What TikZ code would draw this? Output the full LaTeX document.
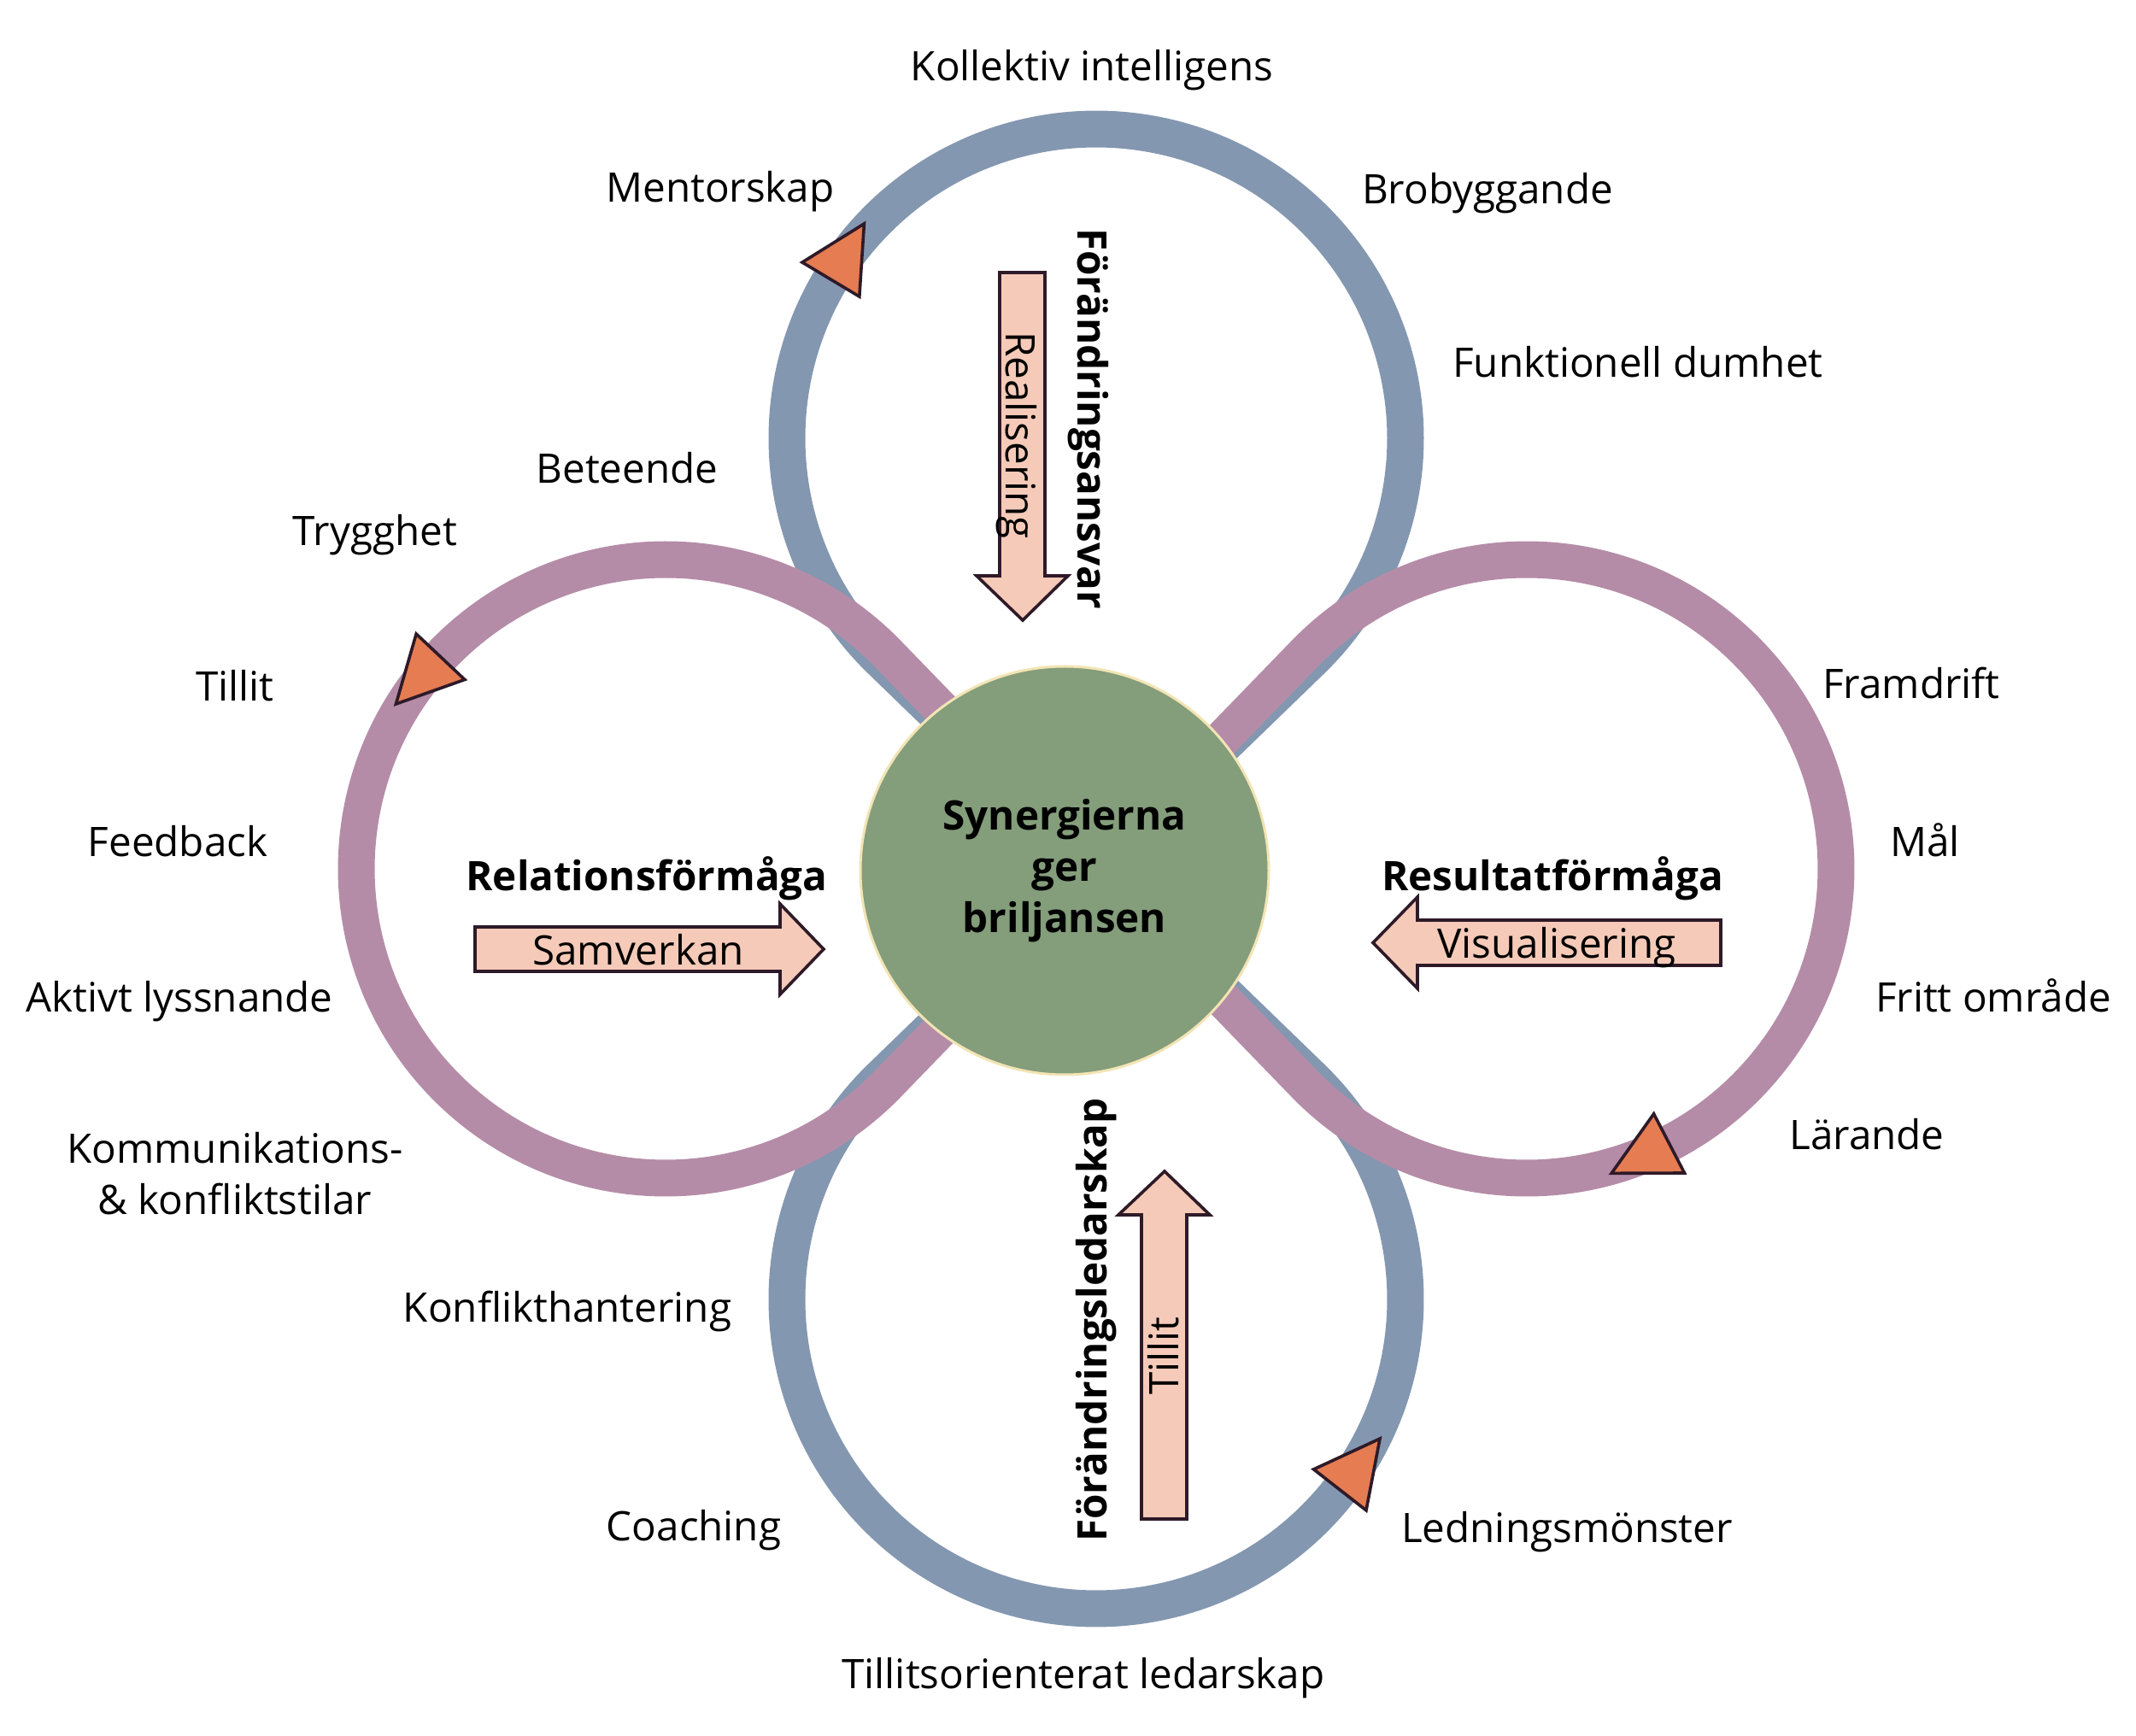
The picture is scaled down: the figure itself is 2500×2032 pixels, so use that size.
\documentclass[tikz,border=0pt]{standalone}
\usepackage{fontspec}
\setmainfont{Open Sans}
\usetikzlibrary{calc}
\definecolor{loopblue}{HTML}{8497B0}
\definecolor{looppurple}{HTML}{B58CA7}
\definecolor{hubgreen}{HTML}{849D7B}
\definecolor{hubring}{HTML}{F2E4B4}
\definecolor{peach}{HTML}{F5CAB8}
\definecolor{edgedark}{HTML}{2E1A28}
\definecolor{trifill}{HTML}{E57C52}
\newcommand\looptri[3]{%
  \coordinate (m) at ($(#1)+(#2:362)$);
  \draw[trimark] ($(m)+(#2:39)$) -- ($(m)+(#2+180:39)$) -- ($(m)+(#2#3:76)$) -- cycle;}
\begin{document}
\begin{tikzpicture}[x=0.25pt,y=-0.25pt,
  lbl/.style={font=\fontsize{11.9}{15}\selectfont, anchor=base, inner sep=0pt},
  headtxt/.style={font=\bfseries\fontsize{11.9}{15}\selectfont, inner sep=0pt},
  arrtxt/.style={font=\fontsize{11.9}{15}\selectfont, inner sep=0pt},
  loopb/.style={draw=loopblue, line width=10.75pt, line join=round},
  loopp/.style={draw=looppurple, line width=10.75pt, line join=round},
  blk/.style={fill=peach, draw=edgedark, line width=0.9pt, line join=miter},
  trimark/.style={fill=trifill, draw=edgedark, line width=0.9pt, line join=miter},
]
\path[use as bounding box] (0,0) rectangle (2500,2032);
\coordinate (C) at (1283,1017);
\coordinate (OT) at (1283,513);
\coordinate (OB) at (1283,1521);
\coordinate (OL) at (779,1017);
\coordinate (OR) at (1787,1017);

% blue lobes
\draw[loopb] (C) -- ++(224.09:350.67) arc[start angle=134.09, delta angle=271.82, radius=362] -- (C);
\draw[loopb] (C) -- ++(44.09:350.67) arc[start angle=314.09, delta angle=271.82, radius=362] -- (C);
% purple lobes
\draw[loopp] (C) -- ++(134.09:350.67) arc[start angle=44.09, delta angle=271.82, radius=362] -- (C);
\draw[loopp] (C) -- ++(314.09:350.67) arc[start angle=224.09, delta angle=271.82, radius=362] -- (C);

% direction marks
\looptri{OT}{210.9}{+90}
\looptri{OL}{223.3}{-90}
\looptri{OR}{62.6}{+90}
\looptri{OB}{38}{-90}

% hub
\node[circle, fill=hubgreen, draw=hubring, line width=0.75pt, minimum size=119.5pt, inner sep=0pt,
  align=center, font=\bfseries\fontsize{11.9}{15}\selectfont] (hub) at (1246,1019) {Synergierna\\ger\\briljansen};

% block arrows
\draw[blk] (1170,319) -- (1223,319) -- (1223,674) -- (1250,674) -- (1197,726) -- (1143,674) -- (1170,674) -- cycle;
\node[arrtxt, rotate=-90] (realis) at (1189.5,509.5) {Realisering};
\node[headtxt, rotate=-90] (fansvar) at (1274,490) {Förändringsansvar};

\draw[blk] (1336,1778) -- (1389,1778) -- (1389,1422) -- (1416,1422) -- (1363,1371) -- (1309,1422) -- (1336,1422) -- cycle;
\node[arrtxt, rotate=90] (tillitarr) at (1362,1587) {Tillit};
\node[headtxt, rotate=90] (fledar) at (1283,1545) {Förändringsledarskap};

\draw[blk] (556,1085) -- (913,1085) -- (913,1058) -- (964,1111) -- (913,1164) -- (913,1137) -- (556,1137) -- cycle;
\node[arrtxt, anchor=base] (samv) at (747,1130) {Samverkan};
\node[headtxt, anchor=base] (relf) at (757,1043) {Relationsförmåga};

\draw[blk] (2014,1077) -- (1659,1077) -- (1659,1050) -- (1607,1103.5) -- (1659,1157) -- (1659,1130) -- (2014,1130) -- cycle;
\node[arrtxt, anchor=base] (visu) at (1822,1122) {Visualisering};
\node[headtxt, anchor=base] (resf) at (1817,1043) {Resultatförmåga};

% outer labels
\node[lbl] (l1) at (1278,95) {Kollektiv intelligens};
\node[lbl] (l2) at (843,237) {Mentorskap};
\node[lbl] (l3) at (1741,239) {Brobyggande};
\node[lbl] (l4) at (1917,442) {Funktionell dumhet};
\node[lbl] (l5) at (734,566) {Beteende};
\node[lbl] (l6) at (439,639) {Trygghet};
\node[lbl] (l7) at (275,821) {Tillit};
\node[lbl] (l8) at (208,1003) {Feedback};
\node[lbl] (l9) at (210,1185) {Aktivt lyssnande};
\node[lbl, anchor=center, align=center] (l10) at (275,1374) {Kommunikations-\\\& konfliktstilar};
\node[lbl] (l11) at (664,1548) {Konflikthantering};
\node[lbl] (l12) at (812,1803) {Coaching};
\node[lbl] (l13) at (1268,1976) {Tillitsorienterat ledarskap};
\node[lbl] (l14) at (1834,1805) {Ledningsmönster};
\node[lbl] (l15) at (2185,1346) {Lärande};
\node[lbl] (l16) at (2333,1185) {Fritt område};
\node[lbl] (l17) at (2253,1003) {Mål};
\node[lbl] (l18) at (2237,818) {Framdrift};
\end{tikzpicture}
\end{document}
